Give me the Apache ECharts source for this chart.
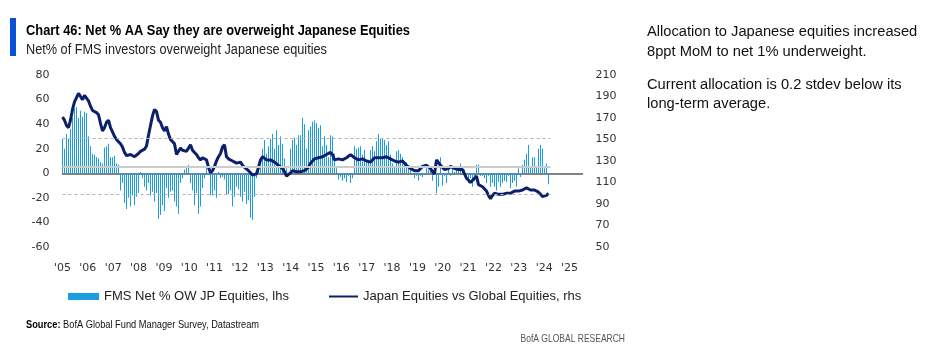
<!DOCTYPE html>
<html><head><meta charset="utf-8">
<script src="https://cdn.jsdelivr.net/npm/echarts@6/dist/echarts.min.js"></script>
<style>html,body{margin:0;padding:0;background:#fff}#c{width:925px;height:345px}</style>
</head><body><div id="c"></div>
<script>
// ---- data ----
const yearLabels = ["'05","'06","'07","'08","'09","'10","'11","'12","'13","'14","'15","'16","'17","'18","'19","'20","'21","'22","'23","'24","'25"];
const firstYear = 2005;
const leftTicks = { min: -60, max: 80, step: 20 };
const rightTicks = { min: 50, max: 210, step: 20 };
// FMS net % overweight Japanese equities (monthly, lhs)
const fmsNet = [
 28,20,32,28,36,45,53,54,45,51,46,50,49,30,22,16,15,13,12,9,8,21,22,24,13,13,14,8,7,
 -14,-8,-24,-29,-20,-27,-18,-26,-19,-16,1,-4,-11,-14,-8,-18,-15,-23,-16,-37,-34,-26,-31,-12,-20,-15,-14,-23,-27,-33,-8,-4,3,5,7,-8,-14,-26,-16,-33,-27,-12,-4,5,-1,-18,-18,-14,-20,1,-4,
 -3,-5,-17,-17,-14,-27,-19,-11,-13,-19,-23,-15,-25,-22,-36,-38,-19,
 -4,3,6,20,27,16,22,28,32,20,35,23,30,24,12,4,0,20,27,29,23,31,31,
 45,40,20,35,38,42,43,41,37,39,22,30,23,13,31,30,16,4,-5,-3,-6,-4,-7,-2,-8,-4,22,20,21,22,15,19,9,11,19,22,18,26,32,28,28,27,
 23,26,15,8,5,18,19,16,13,8,9,4,5,-1,-4,-2,-6,-2,-3,-1,4,3,3,-6,5,-16,-11,13,-10,-2,-8,3,-2,4,1,5,3,8,5,3,
 -2,-8,-4,-11,-6,7,7,-2,-2,-4,-8,-2,-11,-8,-11,-14,-7,-11,-8,-6,-7,-2,-12,-8,-6,-11,4,-3,7,11,16,23,5,13,13,5,20,23,20,4,8,-9
];
// Japan equities vs global equities (rhs)
const japanRel = [
 171,168,163,161,168,178,185,189,193,190,187,191,190,186,181,177,177,175,173,165,
 158,161,166,168,161,157,153,150,148,146,143,138,135,134,136,137,134,135,137,139,
 140,141,144,154,163,172,178,176,168,166,161,158,162,155,150,149,146,136,139,142,
 140,140,139,142,145,140,138,136,133,131,133,133,131,124,119,121,125,130,134,137,
 143,145,134,132,131,130,129,128,129,129,126,124,123,121,119,117,117,118,124,131,
 134,133,131,131,131,130,129,128,126,125,123,120,116,117,119,121,121,120,120,120,
 119,121,120,124,128,130,132,132,133,134,134,135,136,137,138,136,131,132,132,132,
 131,131,133,134,136,136,133,132,131,131,132,131,130,130,129,131,133,134,133,132,
 133,133,134,134,132,131,130,130,129,129,130,129,126,125,123,122,121,122,121,123,
 125,126,126,126,123,120,118,131,130,126,124,122,122,123,125,124,123,122,122,122,
 122,121,114,112,110,109,114,116,108,107,106,105,102,98,95,98,100,99,99,98,
 99,100,100,99,100,101,102,101,102,103,103,104,105,104,103,103,103,102,101,99,
 97,97,98,100
];
const fmsAverage = 5.3;
const fmsPlus1sd = 28.3;
const fmsMinus1sd = -17.3;
const seriesNames = ['FMS Net % OW JP Equities, lhs', 'Japan Equities vs Global Equities, rhs'];

// ---- chart ----
const SANS = '"Liberation Sans",Arial,sans-serif';
const AXF = '"DejaVu Sans",sans-serif';
const chart = echarts.init(document.getElementById('c'), null, {renderer:'canvas'});
const gridLeft = 62.5, gridWidth = 520, pxPerIndex = 2, pxPerYear = 25.35;

const refLine = (v, ls) => [{coord:[0, v], lineStyle: ls}, {coord:[fmsNet.length, v]}];
const dashedStyle = { color: '#b3b3b3', width: 1, type: [3, 3] };
const avgStyle = { color: '#cccccc', width: 2, type: 'solid' };

chart.setOption({
  animation: false,
  backgroundColor: '#fff',
  grid: { left: gridLeft, top: 75, width: gridWidth, height: 172, containLabel: false },
  xAxis: [
    { type: 'value', min: 0, max: gridWidth / pxPerIndex, position: 'bottom',
      axisLabel: { show: false }, axisTick: { show: false }, splitLine: { show: false },
      axisLine: { show: true, onZero: true, onZeroAxisIndex: 0, lineStyle: { color: '#5a5a5a', width: 1.5 } } },
    { type: 'value', min: firstYear, max: firstYear + gridWidth / pxPerYear, interval: 1, position: 'bottom',
      axisLine: { show: false }, axisTick: { show: false }, splitLine: { show: false },
      axisLabel: { show: true, margin: 16, fontSize: 11, fontFamily: AXF, color: '#333',
        showMinLabel: true, showMaxLabel: true, hideOverlap: false,
        formatter: (v) => { const k = Math.round(v - firstYear); return Math.abs(v - firstYear - k) < 1e-6 && yearLabels[k] ? yearLabels[k] : ''; } } }
  ],
  yAxis: [
    { type: 'value', min: leftTicks.min, max: leftTicks.max, interval: leftTicks.step, position: 'left',
      axisLine: { show: false }, axisTick: { show: false }, splitLine: { show: false },
      axisLabel: { margin: 13, fontSize: 11, fontFamily: AXF, color: '#333' } },
    { type: 'value', min: rightTicks.min, max: rightTicks.max, interval: rightTicks.step, position: 'right',
      axisLine: { show: false }, axisTick: { show: false }, splitLine: { show: false },
      axisLabel: { margin: 13, fontSize: 11, fontFamily: AXF, color: '#333' } }
  ],
  legend: [
    { data: [{ name: seriesNames[0], icon: 'rect' }], left: 63, top: 285, itemWidth: 31, itemHeight: 7,
      textStyle: { fontSize: 13, fontFamily: SANS, color: '#222' }, selectedMode: false },
    { data: [{ name: seriesNames[1], icon: 'rect' }], left: 324, top: 285, itemWidth: 29, itemHeight: 2,
      textStyle: { fontSize: 13, fontFamily: SANS, color: '#222' }, selectedMode: false }
  ],
  series: [
    { name: seriesNames[0], type: 'bar', xAxisIndex: 0, yAxisIndex: 0,
      data: fmsNet.map((v, i) => [i, v]), barWidth: 1, itemStyle: { color: '#1a9de2' }, z: 2,
      markLine: { silent: true, symbol: 'none', label: { show: false }, animation: false,
        data: [ refLine(fmsPlus1sd, dashedStyle), refLine(fmsMinus1sd, dashedStyle), refLine(fmsAverage, avgStyle) ] } },
    { name: seriesNames[1], type: 'line', xAxisIndex: 0, yAxisIndex: 1,
      data: japanRel.map((v, i) => [i, v]), showSymbol: false, symbol: 'none',
      lineStyle: { color: '#0c1f6b', width: 3 }, itemStyle: { color: '#0c1f6b' }, z: 4 }
  ],
  graphic: [
    { type: 'rect', left: 10, top: 18, shape: { width: 6, height: 38 }, style: { fill: '#0a50d8' } },
    { type: 'text', x: 26, y: 31, scaleX: 0.83, style: { text: 'Chart 46: Net % AA Say they are overweight Japanese Equities',
        fontFamily: SANS, fontWeight: 'bold', fontSize: 15.5, fill: '#000', textVerticalAlign: 'middle' } },
    { type: 'text', x: 26, y: 49.5, scaleX: 0.82, style: { text: 'Net% of FMS investors overweight Japanese equities',
        fontFamily: SANS, fontSize: 15.5, fill: '#222', textVerticalAlign: 'middle' } },
    { type: 'text', x: 647, y: 31.5, style: { text: 'Allocation to Japanese equities increased', fontFamily: SANS, fontSize: 14.7, fill: '#111', textVerticalAlign: 'middle' } },
    { type: 'text', x: 647, y: 51.5, style: { text: '8ppt MoM to net 1% underweight.', fontFamily: SANS, fontSize: 14.7, fill: '#111', textVerticalAlign: 'middle' } },
    { type: 'text', x: 647, y: 85, style: { text: 'Current allocation is 0.2 stdev below its', fontFamily: SANS, fontSize: 14.7, fill: '#111', textVerticalAlign: 'middle' } },
    { type: 'text', x: 647, y: 104, style: { text: 'long-term average.', fontFamily: SANS, fontSize: 14.7, fill: '#111', textVerticalAlign: 'middle' } },
    { type: 'text', x: 26, y: 325, scaleX: 0.82, style: { text: '{b|Source:}{n| BofA Global Fund Manager Survey, Datastream}',
        rich: { b: { fontFamily: SANS, fontWeight: 'bold', fontSize: 11.3, fill: '#000' },
                n: { fontFamily: SANS, fontSize: 11.3, fill: '#111' } }, textVerticalAlign: 'middle' } },
    { type: 'text', x: 625, y: 339, scaleX: 0.81, style: { text: 'BofA GLOBAL RESEARCH', fontFamily: SANS, fontSize: 10.5, fill: '#555',
        textAlign: 'right', textVerticalAlign: 'middle' } }
  ]
});
</script></body></html>
